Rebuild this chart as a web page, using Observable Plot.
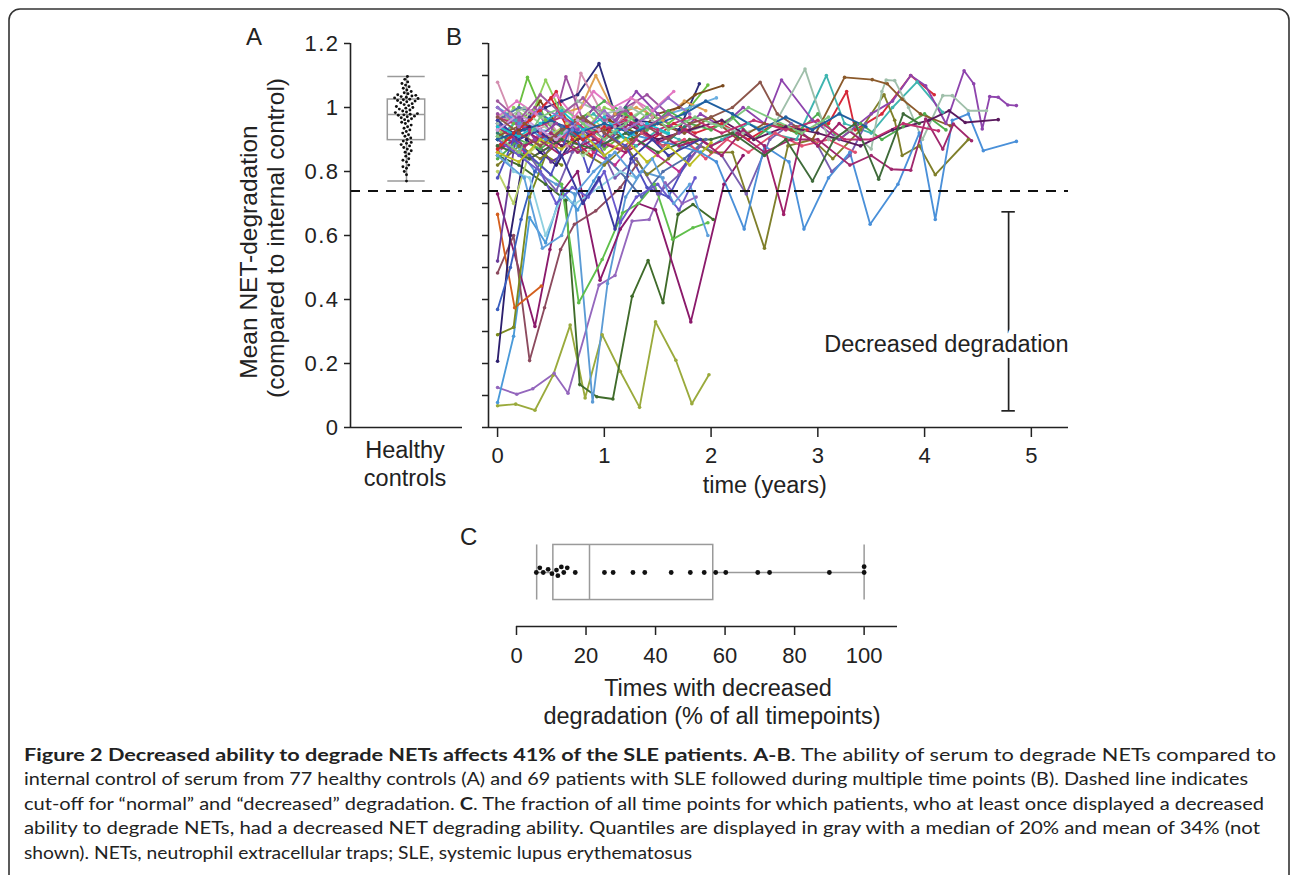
<!DOCTYPE html>
<html>
<head>
<meta charset="utf-8">
<script src="https://cdn.jsdelivr.net/npm/d3@7"></script>
<script src="https://cdn.jsdelivr.net/npm/@observablehq/plot@0.6"></script>
<style>
  html, body { margin:0; padding:0; background:#fff; overflow:hidden; }
  #root { position:relative; width:1293px; height:875px; overflow:hidden; background:#fff; }
  .panel { position:absolute; }
  .panel svg { overflow:visible; }
  .panel svg g[aria-label$="axis tick"] { stroke-width:1.5px; }
  .panelA svg g[aria-label="y-axis tick label"] text { letter-spacing:1.5px; }
  svg.overlay { position:absolute; left:0; top:0; }
</style>
</head>
<body>
<div id="root"></div>
<script>
// ---------------- DATA ----------------
// Panel A: healthy controls (mean NET-degradation)
const controlValues = [
  0.770, 0.790, 0.800, 0.810, 0.815, 0.820, 0.830, 0.835, 0.840, 0.848, 0.855, 0.860, 0.865, 0.870, 0.875, 0.880, 0.884, 0.888, 0.891,
  0.895, 0.900, 0.905, 0.910, 0.915, 0.920, 0.925, 0.930, 0.935, 0.940, 0.945, 0.950, 0.954, 0.958, 0.962, 0.965, 0.968, 0.971, 0.973,
  0.976,
  0.977, 0.979, 0.981, 0.984, 0.986, 0.989, 0.992, 0.995, 0.998, 1.000, 1.003, 1.006, 1.009, 1.012, 1.015, 1.018, 1.020, 1.022, 1.024,
  1.026, 1.028, 1.030, 1.032, 1.034, 1.036, 1.038, 1.040, 1.043, 1.046, 1.050, 1.055, 1.060, 1.065, 1.070, 1.075, 1.080, 1.088, 1.097
];
const boxA = {low: 0.770, q1: 0.898, median: 0.978, q3: 1.025, high: 1.097};
const cutoff = 0.739;
const yTicksA = [0, 0.2, 0.4, 0.6, 0.8, 1.0, 1.2];
const yTicksB = [0, 0.1, 0.2, 0.3, 0.4, 0.5, 0.6, 0.7, 0.8, 0.9, 1.0, 1.1, 1.2];
const xTicksB = [0, 1, 2, 3, 4, 5];

// Panel B: SLE patients, [time (years), mean NET-degradation]
const pt01 = [[0,0.068],[0.17,0.073],[0.35,0.054],[0.52,0.163],[0.68,0.32],[0.82,0.092],[0.98,0.29],[1.15,0.175],[1.33,0.063],[1.48,0.33],[1.67,0.21],[1.82,0.074],[1.98,0.165]];
const pt02 = [[0,0.125],[0.18,0.104],[0.33,0.121],[0.53,0.169],[0.66,0.107],[0.95,0.445],[1.1,0.475],[1.26,0.645],[1.42,0.65],[1.57,0.765],[1.73,0.70],[1.86,0.72]];
const pt03 = [[0,0.85],[0.2,0.82],[0.45,0.76],[0.64,0.71],[0.77,0.134],[0.93,0.096],[1.08,0.089],[1.26,0.41],[1.41,0.522],[1.55,0.39],[1.69,0.666],[1.83,0.697],[2.02,0.65]];
const pt04 = [[0,0.92],[0.18,0.88],[0.35,0.8],[0.55,0.76],[0.72,0.73],[0.89,0.08],[1.03,0.45],[1.2,0.72],[1.35,0.8],[1.55,0.78]];
const pt05 = [[0,0.078],[0.15,0.285],[0.3,0.656],[0.45,0.577],[0.6,0.74],[0.75,0.68],[0.9,0.77],[1.05,0.85]];
const pt06 = [[0,0.73],[0.35,0.316],[0.49,0.556],[0.61,0.74],[0.75,0.8],[0.96,0.46],[1.15,0.62],[1.32,0.7],[1.48,0.68],[1.81,0.33],[2.12,0.76],[2.3,0.85]];
const pt07 = [[0,0.483],[0.15,0.6],[0.3,0.209],[0.44,0.374],[0.59,0.556],[0.72,0.635],[0.92,0.677],[1.15,0.75],[1.3,0.82]];
const pt08 = [[0,0.666],[0.16,0.374],[0.41,0.442]];
const pt09 = [[0,0.29],[0.15,0.313],[0.3,0.72],[0.45,0.85],[0.6,0.82]];
const pt10 = [[0,0.207],[0.12,0.6],[0.27,0.9],[0.4,0.86],[0.55,0.82],[0.7,0.9]];
const pt11 = [[0,0.369],[0.12,0.5],[0.22,0.65],[0.35,0.8],[0.5,0.88]];
const pt12 = [[0,0.9],[0.2,0.86],[0.4,0.82],[0.6,0.76],[0.76,0.39],[0.98,0.525],[1.17,0.67],[1.32,0.7],[1.47,0.76],[1.64,0.588],[1.83,0.624],[1.97,0.64]];
const pt13 = [[0,0.95],[0.15,0.92],[0.3,0.97],[0.45,1.0],[0.6,1.02],[0.75,1.04],[0.95,1.137],[1.1,0.98],[1.3,0.96],[1.5,0.95],[1.7,0.93],[1.89,1.074]];
const pt14 = [[0,1.079],[0.12,0.98],[0.3,0.92],[0.5,0.95],[0.65,0.88],[0.78,1.107],[0.95,1.0],[1.1,0.94],[1.3,1.02],[1.45,0.97]];
const pt15 = [[0,0.85],[0.15,0.95],[0.28,1.094],[0.45,0.96],[0.6,0.9],[0.8,0.95],[1.0,0.87],[1.2,0.92],[1.4,0.98],[1.6,0.95],[1.8,1.0],[1.97,1.07]];
const pt16 = [[0,0.93],[0.2,0.9],[0.4,0.95],[0.6,0.98],[0.78,1.0],[0.92,1.1],[1.1,0.98],[1.3,1.0],[1.55,0.96],[1.75,1.02],[1.95,0.99]];
const pt17 = [[0,0.88],[0.2,0.93],[0.4,1.02],[0.55,0.95],[0.75,0.9],[1.05,0.96],[1.3,0.92],[1.5,0.98],[1.7,1.0],[1.85,1.04],[2.11,1.068]];
const pt18 = [[0,0.98],[0.18,0.95],[0.35,1.0],[0.5,0.92],[0.64,1.096],[0.8,0.96],[1.0,0.9],[1.2,1.0],[1.4,1.04],[1.6,0.98]];
const pt19 = [[0,0.9],[0.15,1.0],[0.3,0.96],[0.45,1.086],[0.6,0.98],[0.8,0.92],[1.0,1.0],[1.25,0.97]];
const pt20 = [[0,0.88],[0.2,0.92],[0.4,0.99],[0.55,1.05],[0.7,0.9],[0.88,0.85],[1.05,0.93],[1.25,0.98],[1.45,0.9],[1.65,0.95],[1.85,0.92],[2.1,0.95],[2.35,0.9],[2.6,0.95],[2.9,0.93],[3.1,0.95],[3.27,1.05],[3.35,0.93],[3.6,0.98],[3.87,1.1],[4.09,1.04]];
const pt21 = [[0,1.0],[0.2,0.96],[0.4,0.93],[0.6,0.92],[0.8,0.91],[1.0,0.94],[1.2,0.96],[1.4,0.93],[1.6,0.98],[1.8,1.0],[2.05,1.03]];
const pt22 = [[0,0.9],[0.18,0.96],[0.35,0.93],[0.55,0.88],[0.7,0.95],[0.9,0.98],[1.1,0.92],[1.3,0.88],[1.5,0.93],[1.7,0.9],[1.9,0.86],[2.1,0.9],[2.35,0.95],[2.55,0.92],[2.8,0.9],[3.08,1.1],[3.25,0.95],[3.5,0.92],[3.7,1.0],[3.93,1.08],[4.17,0.985]];
const pt23 = [[0,0.92],[0.2,0.88],[0.4,0.9],[0.6,0.93],[0.8,0.9],[1.0,0.95],[1.2,1.0],[1.35,0.92],[1.55,0.88],[1.75,0.94]];
const pt24 = [[0,0.86],[0.15,0.9],[0.3,0.84],[0.5,0.88],[0.7,0.93],[0.9,0.86],[1.1,0.82],[1.3,0.9],[1.5,0.85],[1.7,0.8],[1.9,0.88]];
const pt25 = [[0,0.95],[0.2,0.9],[0.4,0.8],[0.55,0.74],[0.7,0.86],[0.9,0.92],[1.1,0.78],[1.3,0.84],[1.5,0.73],[1.7,0.79],[1.9,0.88],[2.1,0.85],[2.33,0.73],[2.55,0.9],[2.75,0.95],[3.0,0.88],[3.13,0.8],[3.3,0.85],[3.45,0.95]];
const pt26 = [[0,0.82],[0.2,0.88],[0.4,0.84],[0.6,0.9],[0.8,0.86],[1.0,0.82],[1.2,0.88],[1.4,0.79],[1.6,0.84],[1.8,0.9],[2.0,0.86],[2.2,0.86],[2.5,0.56],[2.72,0.88],[2.95,0.9],[3.14,0.84],[3.4,0.93],[3.62,1.04],[3.72,0.96],[3.79,0.85],[3.95,0.88],[4.1,0.79],[4.41,0.9]];
const pt27 = [[0,0.97],[0.2,1.0],[0.4,0.95],[0.6,0.9],[0.8,0.85],[1.0,0.9],[1.2,0.96],[1.4,1.0]];
const pt28 = [[0,0.8],[0.15,0.7],[0.3,0.86],[0.45,0.9],[0.65,0.95],[0.85,0.98],[1.0,0.93]];
const pt29 = [[0,0.96],[0.2,1.0],[0.4,0.98],[0.6,0.94],[0.8,0.9],[1.0,0.85],[1.2,0.78],[1.35,0.72],[1.55,0.8],[1.75,0.84],[1.95,0.9]];
const pt30 = [[0,0.52],[0.1,0.75],[0.2,0.98],[0.35,0.9],[0.5,0.83],[0.65,0.86],[0.8,0.93],[1.0,0.88],[1.2,0.95]];
const pt31 = [[0,0.9],[0.2,0.86],[0.4,0.92],[0.55,0.88],[0.75,0.95],[0.95,0.9],[1.15,0.87],[1.35,0.92],[1.55,0.88],[1.75,0.9],[1.95,0.84],[2.15,0.9],[2.35,0.86],[2.6,0.92],[2.85,0.88],[3.1,0.9],[3.35,0.86]];
const pt32 = [[0,0.88],[0.15,0.8],[0.3,0.78],[0.45,0.6],[0.6,0.72],[0.73,0.7],[0.95,0.75],[1.15,0.8],[1.3,0.78]];
const pt33 = [[0,0.84],[0.2,0.9],[0.4,0.87],[0.6,0.92],[0.8,0.97],[1.0,1.02],[1.2,0.98],[1.4,0.93],[1.6,0.99],[1.8,0.95],[2.0,0.93],[2.2,0.97],[2.4,0.9],[2.6,0.95],[2.8,0.92],[3.0,0.98],[3.2,0.9],[3.4,0.95],[3.6,0.9],[3.8,0.94],[4.0,0.98],[4.2,0.93]];
const pt34 = [[0,0.93],[0.2,0.97],[0.35,0.9],[0.55,0.95],[0.75,0.93],[0.9,1.0],[1.1,0.96],[1.3,1.05],[1.5,0.98],[1.7,0.92],[1.9,0.98],[2.1,0.94],[2.3,1.0],[2.5,0.95],[2.66,1.086],[2.95,0.96],[3.2,0.9],[3.5,0.98],[3.7,1.02],[3.87,1.1],[4.01,1.068],[4.2,0.95],[4.37,1.115],[4.46,1.074],[4.54,0.933],[4.61,1.034],[4.69,1.032],[4.78,1.008],[4.86,1.006]];
const pt35 = [[0,0.95],[0.25,1.0],[0.5,0.95],[0.75,1.02],[1.0,0.98],[1.25,1.0],[1.5,0.95],[1.75,0.92],[2.0,0.95],[2.3,0.92],[2.6,0.95],[2.88,1.12],[3.1,0.9],[3.3,0.93],[3.5,0.87],[3.6,1.05],[3.64,1.086],[3.72,1.084],[3.85,1.0],[3.98,0.9],[4.17,1.037],[4.26,1.037],[4.41,0.99],[4.58,0.99]];
const pt36 = [[0,1.0],[0.2,0.95],[0.45,0.9],[0.7,0.93],[0.95,0.88],[1.2,0.92],[1.45,0.9],[1.7,0.88],[1.9,0.86],[2.05,0.83],[2.31,0.62],[2.5,0.88],[2.73,0.83],[2.87,0.62],[3.1,0.78],[3.3,0.86],[3.49,0.635],[3.75,0.76],[3.95,0.92],[4.1,0.65],[4.26,0.96],[4.41,0.98],[4.55,0.865],[4.86,0.894]];
const pt37 = [[0,0.91],[0.25,0.95],[0.5,0.9],[0.75,0.97],[1.0,0.93],[1.25,0.9],[1.5,0.95],[1.75,0.92],[2.0,0.97],[2.25,0.9],[2.5,0.95],[2.75,0.93],[2.95,0.9],[3.25,1.094],[3.51,1.087],[3.65,1.074],[3.79,1.026],[3.96,0.98],[4.24,0.943]];
const pt38 = [[0,0.9],[0.3,0.94],[0.6,0.88],[0.9,0.92],[1.2,0.95],[1.5,0.9],[1.8,0.93],[2.1,0.96],[2.4,0.9],[2.7,0.94],[3.0,0.92],[3.4,0.88],[3.7,0.93],[4.04,0.96],[4.23,0.99],[4.38,0.953],[4.69,0.962]];
const pt39 = [[0,0.94],[0.25,0.88],[0.5,0.92],[0.75,0.86],[1.0,0.9],[1.25,0.95],[1.5,0.89],[1.75,0.93],[2.0,0.88],[2.25,0.92],[2.5,0.86],[2.75,0.9],[3.0,0.9],[3.3,0.82],[3.5,0.85],[3.69,0.807],[3.87,0.804],[4.01,0.964],[4.17,0.87],[4.27,0.948],[4.44,0.896]];
const pt40 = [[0,0.97],[0.3,0.93],[0.6,0.97],[0.9,0.92],[1.2,0.96],[1.5,0.93],[1.8,0.97],[2.1,0.92],[2.4,0.96],[2.7,0.93],[3.0,0.96],[3.25,0.9],[3.5,0.9],[3.8,0.95],[4.13,0.927]];
const pt41 = [[0,0.87],[0.3,0.92],[0.6,0.85],[0.9,0.9],[1.2,0.86],[1.5,0.92],[1.7,0.88],[1.9,0.9],[2.1,0.85],[2.3,0.93],[2.5,0.88],[2.68,0.666],[2.85,0.92],[3.0,0.88],[3.2,0.95],[3.4,0.9]];
const pt42 = [[0,0.88],[0.3,0.84],[0.6,0.9],[0.9,0.87],[1.2,0.92],[1.5,0.86],[1.8,0.9],[2.0,0.9],[2.2,0.92],[2.5,0.85],[2.7,0.9],[2.95,0.77],[3.15,0.9],[3.35,0.95],[3.57,0.776],[3.8,0.98],[3.95,0.95]];
const pt43 = [[0,0.78],[0.15,0.9],[0.3,0.85],[0.5,0.79],[0.7,0.95],[0.85,0.8],[1.0,0.92],[1.2,0.88],[1.4,0.75],[1.6,0.72],[1.8,0.85]];
const pt44 = [[0,0.85],[0.25,0.78],[0.42,0.56],[0.6,0.6],[0.75,0.74],[0.9,0.8],[1.1,0.86],[1.3,0.78],[1.45,0.84],[1.65,0.7],[1.8,0.76],[1.97,0.6]];
const pt45 = [[0,0.9],[0.2,0.85],[0.4,0.8],[0.55,0.7],[0.7,0.75],[0.85,0.72],[1.0,0.8],[1.15,0.64],[1.3,0.72],[1.5,0.76],[1.7,0.68],[1.85,0.78]];
const pt46 = [[0,0.96],[0.2,0.9],[0.4,0.93],[0.6,0.85],[0.8,0.7],[0.95,0.78],[1.1,0.62],[1.25,0.84],[1.45,0.9],[1.6,0.85],[1.9,0.9]];
const pt47 = [[0,0.97],[0.18,1.02],[0.36,0.98],[0.55,1.04],[0.72,0.97],[0.9,1.05],[1.08,1.0],[1.25,1.03],[1.45,0.99],[1.65,1.05]];
const pt48 = [[0,0.94],[0.2,0.91],[0.4,0.95],[0.6,0.99],[0.8,0.93],[1.0,0.97],[1.2,0.9],[1.4,0.95],[1.6,0.92]];
const pt49 = [[0,0.86],[0.2,0.83],[0.4,0.9],[0.6,0.87],[0.8,0.92],[1.0,0.85],[1.2,0.9],[1.4,0.83],[1.6,0.88],[1.8,0.82],[2.0,0.89]];
const pt50 = [[0,1.0],[0.2,0.94],[0.4,1.0],[0.6,0.97],[0.8,0.92],[1.0,0.99],[1.2,0.93],[1.4,0.97],[1.6,1.03],[1.8,0.98]];
const pt51 = [[0,0.93],[0.2,0.98],[0.4,0.93],[0.55,0.9],[0.75,0.96],[0.95,0.93],[1.15,1.0],[1.35,0.95]];
const pt52 = [[0,0.91],[0.2,0.86],[0.4,0.97],[0.6,1.0],[0.8,0.95],[1.0,0.9],[1.2,0.95],[1.4,1.0],[1.6,0.93],[1.85,0.97],[2.1,0.94],[2.35,1.0],[2.6,0.96],[2.85,0.92],[3.1,0.97]];
const pt53 = [[0,0.87],[0.15,0.92],[0.3,0.96],[0.5,1.03],[0.65,0.94],[0.8,0.9],[1.0,0.94]];
const pt54 = [[0,0.97],[0.2,0.92],[0.4,0.88],[0.6,0.93],[0.8,0.97],[1.0,0.92],[1.2,0.87],[1.4,0.94],[1.6,0.9],[1.8,0.95],[2.0,0.97],[2.2,1.0],[2.46,1.079],[2.62,0.98],[2.8,0.94]];
const pt55 = [[0,0.9],[0.25,0.93],[0.5,0.96],[0.75,0.92],[1.0,0.95],[1.25,0.92],[1.5,0.95],[1.75,0.98],[1.95,1.02],[2.2,0.98],[2.45,0.93],[2.7,0.97],[2.95,0.93],[3.2,0.98],[3.45,0.94]];
const pt56 = [[0,1.02],[0.2,0.96],[0.4,1.04],[0.6,0.98],[0.8,1.03],[1.0,0.96],[1.2,0.99],[1.4,0.94],[1.6,0.98],[1.8,0.94]];

const patients = [pt01,pt02,pt03,pt04,pt05,pt06,pt07,pt08,pt09,pt10,pt11,pt12,pt13,pt14,pt15,pt16,pt17,pt18,pt19,pt20,
  pt21,pt22,pt23,pt24,pt25,pt26,pt27,pt28,pt29,pt30,pt31,pt32,pt33,pt34,pt35,pt36,pt37,pt38,pt39,pt40,
  pt41,pt42,pt43,pt44,pt45,pt46,pt47,pt48,pt49,pt50,pt51,pt52,pt53,pt54,pt55,pt56];
const patientColors = [
  "#9aaa3c","#9467bd","#3f6b2a","#5b9bd5","#4a9ad9","#8b1a6b","#8c4a5e","#d45f1e","#7b8a1e","#2c1f6e",
  "#3a5fbf","#5fbf4a","#2c2c7a","#d48fb0","#6abf40","#e0a050","#7a4a1e","#9b4f9e","#8fcf5a","#d62839",
  "#6aaee0","#3fb5b0","#2e7d6b","#c03090","#7a5fb0","#7f7f2a","#a6d8a0","#b8d06a","#4f6fa8","#6a3d9a",
  "#e05070","#8fd0e0","#4fae4f","#8e44ad","#9fbfaa","#4a90d9","#8b5a2b","#5a1a5e","#a0286e","#c03070",
  "#a0206a","#3f6b3a","#5050c0","#5fa0dc","#6a5acd","#3a3aa0","#e377c2","#17becf","#bcbd22","#9a6fc9",
  "#c9a0dc","#7fc97f","#d62728","#8c564b","#1f5fa0","#a05a9e"
];
const bracket = {t: 4.787, lo: 0.052, hi: 0.674};
const annotation = {label: "Decreased degradation", v: 0.258};

// Panel C: % of time points with decreased degradation
const decreasedPct = [5.7, 6.7, 7.7, 9.1, 10.2, 11.5, 11.9, 12.9, 13.6, 14.6, 16.9, 25.3, 27.8, 33.5, 36.9, 44.5, 50.0, 54.0, 57.3, 60.2, 69.4, 72.8, 90.0, 100, 100];
const boxC = {low: 5.8, q1: 10.6, median: 21.0, q3: 56.6, high: 100};
const xTicksC = [0, 20, 40, 60, 80, 100];

// ---------------- STYLE ----------------
const FONT = '"Liberation Sans", Arial, Helvetica, sans-serif';
const INK = "#222";
const GRAY = "#9a9a9a";
const AXIS_W = 1.6;
const boxHalfWidthA = 0.334;   // in panel-A x units
const boxHalfHeightC = 0.51;   // in panel-C y units
const capHalfB = 0.063;        // bracket cap half width (years)
const dashes = "10,8";

const root = document.getElementById("root");
function mount(node, left, top, cls) {
  const d = document.createElement("div");
  d.className = "panel " + (cls || "");
  d.style.left = left + "px";
  d.style.top = top + "px";
  d.appendChild(node);
  root.appendChild(d);
}
const baseStyle = {background: "transparent", overflow: "visible", fontFamily: FONT, fontSize: "22px", color: INK};
const fmt = d => String(+d.toFixed(1));

// ---------------- PANEL A ----------------
const plotA = Plot.plot({
  width: 270, height: 417,
  marginLeft: 150, marginRight: 8, marginTop: 23, marginBottom: 10,
  style: baseStyle,
  x: {domain: [-1, 1], axis: null},
  y: {domain: [0, 1.2], ticks: yTicksA, tickFormat: fmt, tickSize: 6, tickPadding: 5, label: null},
  marks: [
    Plot.ruleY([cutoff], {stroke: "#111", strokeWidth: 2, strokeDasharray: dashes}),
    Plot.ruleX([boxA], {x: 0, y1: "low", y2: "q1", stroke: GRAY, strokeWidth: 1.5}),
    Plot.ruleX([boxA], {x: 0, y1: "q3", y2: "high", stroke: GRAY, strokeWidth: 1.5}),
    Plot.rect([boxA], {x1: -boxHalfWidthA, x2: boxHalfWidthA, y1: "q1", y2: "q3", fill: "none", stroke: GRAY, strokeWidth: 1.5}),
    Plot.ruleY([boxA], {y: "median", x1: -boxHalfWidthA, x2: boxHalfWidthA, stroke: GRAY, strokeWidth: 1.5}),
    Plot.ruleY([boxA], {y: "low", x1: -boxHalfWidthA, x2: boxHalfWidthA, stroke: GRAY, strokeWidth: 1.5}),
    Plot.ruleY([boxA], {y: "high", x1: -boxHalfWidthA, x2: boxHalfWidthA, stroke: GRAY, strokeWidth: 1.5}),
    Plot.dot(controlValues, Plot.dodgeX("middle", {y: d => d, r: 1.45, fill: "#111", padding: -0.6})),
    Plot.ruleX([-1], {stroke: INK, strokeWidth: AXIS_W}),
    Plot.ruleY([0], {stroke: INK, strokeWidth: AXIS_W})
  ]
});
mount(plotA, 200, 20, "panelA");

// ---------------- PANEL B ----------------
const rows = patients.flatMap((pts, i) => pts.map(([t, v]) => ({id: i, t, v, color: patientColors[i]})));
const plotB = Plot.plot({
  width: 620, height: 457,
  marginLeft: 18, marginRight: 22, marginTop: 23, marginBottom: 50,
  style: baseStyle,
  color: {type: "identity"},
  x: {domain: [-0.085, 5.348], ticks: xTicksB, tickFormat: d => String(d), tickSize: 10, tickPadding: 10, label: null},
  y: {domain: [0, 1.2], ticks: yTicksB, tickFormat: () => "", tickSize: 6, tickPadding: 0, label: null},
  marks: [
    Plot.line(rows, {x: "t", y: "v", z: "id", stroke: "color", strokeWidth: 1.85}),
    Plot.dot(rows, {x: "t", y: "v", fill: "color", r: 1.8}),
    Plot.ruleY([cutoff], {stroke: "#111", strokeWidth: 2, strokeDasharray: dashes}),
    Plot.ruleX([bracket], {x: "t", y1: "lo", y2: "hi", stroke: INK, strokeWidth: 1.7}),
    Plot.ruleY([bracket.lo, bracket.hi], {y: d => d, x1: bracket.t - capHalfB, x2: bracket.t + capHalfB, stroke: INK, strokeWidth: 1.7}),
    Plot.text([annotation], {text: "label", y: "v", frameAnchor: "right", textAnchor: "end", fontSize: 23.5, fill: INK, stroke: "white", strokeWidth: 12, paintOrder: "stroke"}),
    Plot.ruleX([-0.085], {stroke: INK, strokeWidth: AXIS_W}),
    Plot.ruleY([0], {stroke: INK, strokeWidth: AXIS_W})
  ]
});
mount(plotB, 470, 20, "panelB");

// ---------------- PANEL C ----------------
const plotC = Plot.plot({
  width: 421, height: 176,
  marginLeft: 16, marginRight: 24, marginTop: 18, marginBottom: 50,
  style: baseStyle,
  x: {domain: [0, 109.6], ticks: xTicksC, tickSize: 9, tickPadding: 12, label: null},
  y: {domain: [-1, 1], axis: null},
  marks: [
    Plot.ruleY([boxC], {y: 0, x1: "low", x2: "q1", stroke: GRAY, strokeWidth: 1.5}),
    Plot.ruleY([boxC], {y: 0, x1: "q3", x2: "high", stroke: GRAY, strokeWidth: 1.5}),
    Plot.rect([boxC], {x1: "q1", x2: "q3", y1: -boxHalfHeightC, y2: boxHalfHeightC, fill: "none", stroke: GRAY, strokeWidth: 1.5}),
    Plot.ruleX([boxC], {x: "median", y1: -boxHalfHeightC, y2: boxHalfHeightC, stroke: GRAY, strokeWidth: 1.5}),
    Plot.ruleX([boxC], {x: "low", y1: -boxHalfHeightC, y2: boxHalfHeightC, stroke: GRAY, strokeWidth: 1.5}),
    Plot.ruleX([boxC], {x: "high", y1: -boxHalfHeightC, y2: boxHalfHeightC, stroke: GRAY, strokeWidth: 1.5}),
    Plot.dot(decreasedPct, Plot.dodgeY("middle", {x: d => d, r: 2.4, fill: "#111", padding: 0.5})),
    Plot.ruleY([-1], {stroke: INK, strokeWidth: AXIS_W})
  ]
});
mount(plotC, 500, 500, "panelC");

// ---------------- TEXT OVERLAY (labels, caption, frame) ----------------
const NS = "http://www.w3.org/2000/svg";
const ov = document.createElementNS(NS, "svg");
ov.setAttribute("class", "overlay");
ov.setAttribute("width", 1293);
ov.setAttribute("height", 875);
root.appendChild(ov);
function txt(parent, s, x, y, o = {}) {
  const t = document.createElementNS(NS, "text");
  t.setAttribute("x", x); t.setAttribute("y", y);
  t.setAttribute("font-family", o.family || FONT);
  t.setAttribute("font-size", o.size || 23.5);
  t.setAttribute("fill", INK);
  t.setAttribute("text-anchor", o.anchor || "start");
  if (o.rotate) t.setAttribute("transform", `rotate(-90 ${x} ${y})`);
  if (o.html) t.innerHTML = s; else t.textContent = s;
  if (o.length) { t.setAttribute("textLength", o.length); t.setAttribute("lengthAdjust", "spacingAndGlyphs"); }
  parent.appendChild(t);
  return t;
}
// frame
const fr = document.createElementNS(NS, "rect");
fr.setAttribute("x", 9); fr.setAttribute("y", 9);
fr.setAttribute("width", 1280); fr.setAttribute("height", 900);
fr.setAttribute("rx", 11); fr.setAttribute("fill", "none");
fr.setAttribute("stroke", "#333"); fr.setAttribute("stroke-width", 1.6);
ov.appendChild(fr);

txt(ov, "A", 246, 45, {size: 24});
txt(ov, "B", 446, 45, {size: 24});
txt(ov, "C", 460, 545, {size: 24});
txt(ov, "Mean NET-degradation", 257, 252, {anchor: "middle", rotate: true, size: 24.5});
txt(ov, "(compared to internal control)", 284, 238, {anchor: "middle", rotate: true, size: 24.5});
txt(ov, "Healthy", 405, 458, {anchor: "middle"});
txt(ov, "controls", 405, 486, {anchor: "middle"});
txt(ov, "time (years)", 764.7, 493, {anchor: "middle"});
txt(ov, "Times with decreased", 718, 696, {anchor: "middle"});
txt(ov, "degradation (% of all timepoints)", 712, 724, {anchor: "middle"});

// caption: each line fitted to the width it has in the reference
const capFont = 'Lato, "Open Sans", "Noto Sans", sans-serif';
const capLines = [
  {len: 1252, s: '<tspan font-weight="bold">Figure 2 Decreased ability to degrade NETs affects 41% of the SLE patients</tspan>. <tspan font-weight="bold">A-B</tspan>. The ability of serum to degrade NETs compared to'},
  {len: 1224, s: 'internal control of serum from 77 healthy controls (A) and 69 patients with SLE followed during multiple time points (B). Dashed line indicates'},
  {len: 1240, s: 'cut-off for \u201cnormal\u201d and \u201cdecreased\u201d degradation. <tspan font-weight="bold">C</tspan>. The fraction of all time points for which patients, who at least once displayed a decreased'},
  {len: 1236, s: 'ability to degrade NETs, had a decreased NET degrading ability. Quantiles are displayed in gray with a median of 20% and mean of 34% (not'},
  {len: 668, s: 'shown). NETs, neutrophil extracellular traps; SLE, systemic lupus erythematosus'}
];
const capLeft = 24, capBase = 761, capStep = 24.4;
capLines.forEach((l, i) => txt(ov, l.s, capLeft, capBase + i * capStep, {family: capFont, size: 17.3, html: true, length: l.len}));
</script>
</body>
</html>
